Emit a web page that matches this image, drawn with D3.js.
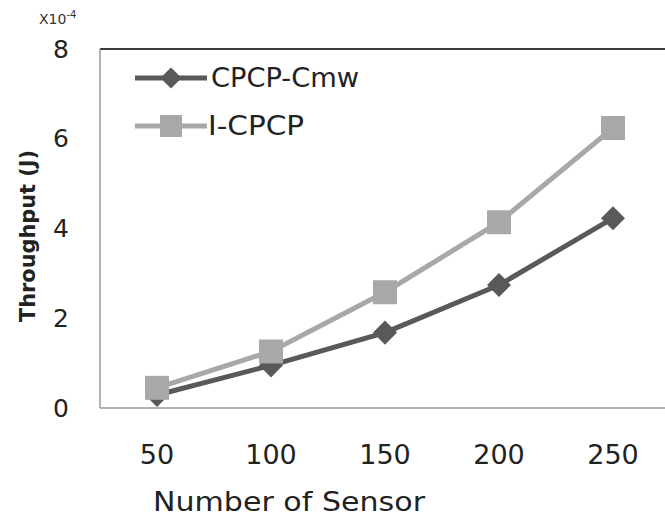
<!DOCTYPE html>
<html><head><meta charset="utf-8">
<script src="https://cdn.jsdelivr.net/npm/d3@7/dist/d3.min.js"></script>
<style>body{margin:0;background:#fff}svg{display:block}text{font-family:"DejaVu Sans",sans-serif}</style>
</head><body>
<script>
const categories = [50, 100, 150, 200, 250];
const cpcpCmw = [0.29, 0.95, 1.68, 2.74, 4.23];
const iCpcp = [0.45, 1.26, 2.58, 4.14, 6.24];
const yTicks = [0, 2, 4, 6, 8];
const seriesNames = ["CPCP-Cmw", "I-CPCP"];

const W = 665, H = 519;
const FONT = '"DejaVu Sans",sans-serif';
const svg = d3.select("body").append("svg").attr("width", W).attr("height", H);
const pLeft = 100, pRight = 670, pTop = 49, pBottom = 408;
const x = d3.scaleBand().domain(categories).range([pLeft, pRight]);
const y = d3.scaleLinear().domain([0, 8]).range([pBottom, pTop]);

// frame
svg.append("line").attr("x1", pLeft).attr("x2", W).attr("y1", pTop).attr("y2", pTop)
  .attr("stroke", "#3a3a3a").attr("stroke-width", 2);
svg.append("line").attr("x1", pLeft).attr("x2", pLeft).attr("y1", pTop).attr("y2", pBottom)
  .attr("stroke", "#9a9a9a").attr("stroke-width", 1.5);

const xAxis = svg.append("g").attr("transform", `translate(0,${pBottom})`)
  .call(d3.axisBottom(x).tickSize(0).tickPadding(37));
xAxis.select(".domain").attr("stroke", "#9a9a9a").attr("stroke-width", 1.5).attr("d", `M${pLeft},0H${W}`);
xAxis.selectAll("text").attr("font-size", 27).attr("fill", "#222").attr("font-family", FONT);

const yAxis = svg.append("g").attr("transform", `translate(${pLeft},0)`)
  .call(d3.axisLeft(y).tickValues(yTicks).tickSize(0).tickPadding(31));
yAxis.select(".domain").remove();
yAxis.selectAll("text").attr("font-size", 25).attr("fill", "#222").attr("font-family", FONT);

svg.append("text").attr("x", 39).attr("y", 24).attr("font-size", 14).attr("fill", "#333")
  .text("X10").append("tspan").attr("font-size", 10).attr("dy", -6).text("-4");

svg.append("text").attr("transform", "translate(35,236) rotate(-90)").attr("text-anchor", "middle")
  .attr("font-size", 22).attr("font-weight", "bold").attr("fill", "#222")
  .attr("textLength", 172).attr("lengthAdjust", "spacingAndGlyphs").text("Throughput (J)");

svg.append("text").attr("x", 289).attr("y", 511).attr("text-anchor", "middle")
  .attr("font-size", 26).attr("fill", "#222")
  .attr("textLength", 272).attr("lengthAdjust", "spacingAndGlyphs").text("Number of Sensor");

const cx = d => x(d) + x.bandwidth() / 2;
const line = d3.line().x((d, i) => cx(categories[i])).y(d => y(d));

const dark = "#595959", light = "#a8a8a8";
const sq = d3.symbol().type(d3.symbolSquare).size(24 * 24);
const dia = d3.symbol().type(d3.symbolSquare).size(17 * 17);

svg.append("path").datum(iCpcp).attr("d", line).attr("fill", "none").attr("stroke", light).attr("stroke-width", 5);
svg.append("path").datum(cpcpCmw).attr("d", line).attr("fill", "none").attr("stroke", dark).attr("stroke-width", 5);
svg.selectAll(".dia").data(cpcpCmw).enter().append("path")
  .attr("transform", (d, i) => `translate(${cx(categories[i])},${y(d)}) rotate(45)`).attr("d", dia).attr("fill", dark);
svg.selectAll(".sq").data(iCpcp).enter().append("path")
  .attr("transform", (d, i) => `translate(${cx(categories[i])},${y(d)})`).attr("d", sq).attr("fill", light);

// legend
const lg = svg.append("g");
const legendItems = [
  { name: seriesNames[0], color: dark, sym: d3.symbol().type(d3.symbolSquare).size(15 * 15), rot: 45, ly: 78, tx: 211, len: 148 },
  { name: seriesNames[1], color: light, sym: d3.symbol().type(d3.symbolSquare).size(22 * 22), rot: 0, ly: 126, tx: 208, len: 96 }
];
legendItems.forEach(it => {
  lg.append("line").attr("x1", 135).attr("x2", 207).attr("y1", it.ly).attr("y2", it.ly).attr("stroke", it.color).attr("stroke-width", 5);
  lg.append("path").attr("transform", `translate(171,${it.ly}) rotate(${it.rot})`).attr("d", it.sym).attr("fill", it.color);
  lg.append("text").attr("x", it.tx).attr("y", it.ly).attr("dy", "0.36em")
    .attr("font-size", 26).attr("fill", "#222")
    .attr("textLength", it.len).attr("lengthAdjust", "spacingAndGlyphs").text(it.name);
});
</script>
</body></html>
